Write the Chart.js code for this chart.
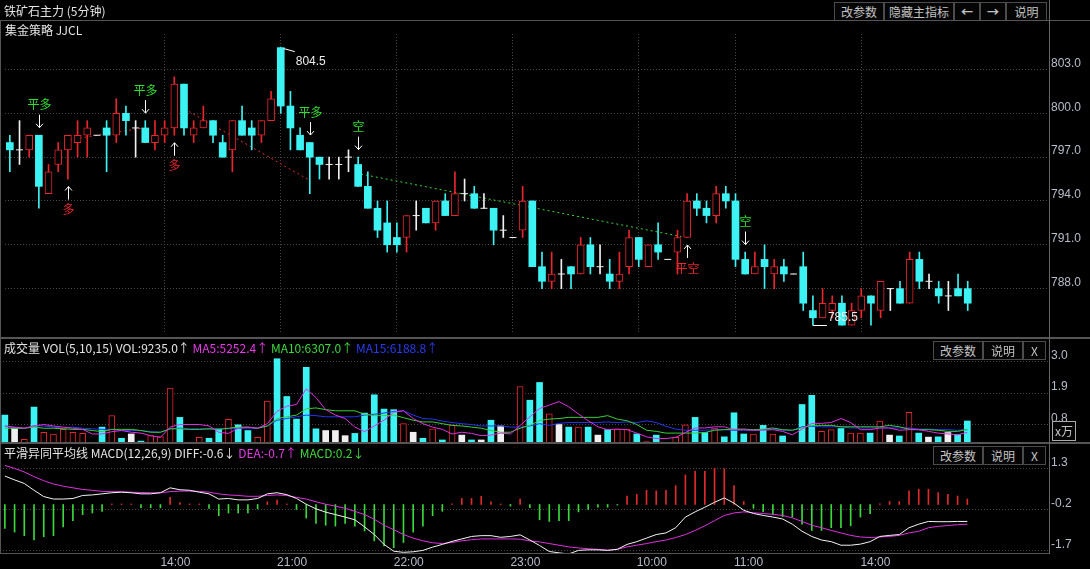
<!DOCTYPE html>
<html>
<head>
<meta charset="utf-8">
<script src="https://cdn.jsdelivr.net/npm/chart.js@4.4.1/dist/chart.umd.min.js"></script>
<style>
  body { margin: 0; background: #000; width: 1090px; height: 569px; overflow: hidden; position: relative;
         font-family: "Noto Sans CJK SC", sans-serif; }
  canvas { position: absolute; left: 0; }
  .txt { position: absolute; font-size: 12px; line-height: 16px; white-space: nowrap; color: #e4e4e4; z-index: 2; }
  .btn { position: absolute; height: 17px; border: 1px solid #4c4c4c; color: #c4c4c4; font-size: 12px;
         line-height: 17px; text-align: center; background: #050505; z-index: 2; }
  .ln { position: absolute; background: #555; z-index: 3; }
</style>
</head>
<body>

<canvas id="kChart" width="1090" height="339" style="top:0"></canvas>
<canvas id="volChart" width="1090" height="104" style="top:339px"></canvas>
<canvas id="macdChart" width="1090" height="126" style="top:443px"></canvas>

<div class="txt" style="left:4px;top:3px">铁矿石主力 (5分钟)</div>
<div class="btn" style="left:834px;top:2px;width:48px">改参数</div>
<div class="btn" style="left:884px;top:2px;width:68px">隐藏主指标</div>
<div class="btn" style="left:954px;top:2px;width:24px;font-weight:bold">&larr;</div>
<div class="btn" style="left:980px;top:2px;width:24px;font-weight:bold">&rarr;</div>
<div class="btn" style="left:1006px;top:2px;width:39px">说明</div>
<div class="txt" style="left:5px;top:22px">集金策略 JJCL</div>

<div class="txt" style="left:4px;top:340px">成交量 VOL(5,10,15) VOL:9235.0↑ <span style="color:#e83ae8">MA5:5252.4↑</span> <span style="color:#3cd83c">MA10:6307.0↑</span> <span style="color:#2a3cf0">MA15:6188.8↑</span></div>
<div class="btn" style="left:933px;top:341px;width:48px">改参数</div>
<div class="btn" style="left:983px;top:341px;width:38px">说明</div>
<div class="btn" style="left:1023px;top:341px;width:21px">X</div>
<div class="btn" style="left:1052px;top:421px;width:22px;height:18px;border-color:#aaa">x万</div>

<div class="txt" style="left:4px;top:445px">平滑异同平均线 MACD(12,26,9) DIFF:-0.6↓ <span style="color:#e83ae8">DEA:-0.7↑</span> <span style="color:#3cd83c">MACD:0.2↓</span></div>
<div class="btn" style="left:933px;top:446px;width:48px">改参数</div>
<div class="btn" style="left:983px;top:446px;width:38px">说明</div>
<div class="btn" style="left:1023px;top:446px;width:21px">X</div>

<div class="ln" style="left:0;top:20px;width:1090px;height:1px"></div>
<div class="ln" style="left:0;top:337px;width:1090px;height:2px"></div>
<div class="ln" style="left:0;top:442px;width:1090px;height:2px"></div>
<div class="ln" style="left:0;top:553px;width:1050px;height:1px"></div>
<div class="ln" style="left:1049px;top:0;width:1px;height:554px;background:#666"></div>
<div class="ln" style="left:0;top:21px;width:1px;height:532px"></div>

<script>
// 5-minute bars, oldest first (prices)
const opens = [798, 797.5, 797.5, 798.5, 794.5, 796.5, 797.5, 798, 798.5, 798.5,
  799, 798.5, 800, 799, 799, 798, 798.5, 799, 802, 798.5,
  799, 799.5, 798, 797.5, 799.5, 799, 798.5, 799.5, 804.5, 800.5,
  798.5, 798, 797, 796.5, 796.5, 797, 796.5, 795, 793.5, 792.5,
  791.5, 791.5, 793, 793.5, 792.5, 794, 793, 794.5, 794.5, 793.5,
  793.5, 792, 791.5, 792, 794, 789.5, 788.5, 789, 789.5, 789,
  791, 789.5, 789, 788.5, 789.5, 791.5, 789.5, 791, 790, 790.5,
  791.5, 794, 793.5, 793, 794.5, 794, 790, 789, 790, 789,
  789.5, 789, 789.5, 786.5, 786, 786.5, 787, 785.5, 786.5, 787.5,
  786.5, 788, 788, 787, 790, 788.5, 788, 787.5, 788, 788];
const highs = [798.5, 799.5, 798.5, 798.5, 796.5, 798, 798.5, 799.5, 799.5, 798.5,
  799.5, 801, 800.5, 799.5, 799.5, 799.5, 799.5, 802.5, 802, 799.5,
  800.5, 799.5, 798.5, 799.5, 800.5, 799.5, 799.5, 801.5, 804.5, 801.5,
  799, 798, 797, 797, 797, 797.5, 797, 796, 794, 794,
  792.5, 793, 794, 793.5, 794, 794.5, 796, 795.5, 795, 794.5,
  793.5, 793, 791.5, 795, 794, 790.5, 790.5, 790, 789.5, 791.5,
  791.5, 791, 790, 790.5, 792, 791.5, 791, 792.5, 790, 792,
  794.5, 794.5, 794, 795, 795, 794.5, 790.5, 790.5, 791, 790,
  790, 789, 790.5, 787.5, 788, 787.5, 787.5, 787, 788, 787.5,
  788.5, 788, 788.5, 790.5, 790.5, 789, 788.5, 788.5, 789, 788.5];
const lows = [796, 796.5, 797, 793.5, 794.5, 796, 795.5, 797, 797, 798.5,
  796, 798, 798.5, 797, 798, 797.5, 798, 798.5, 798.5, 798,
  799, 798, 797, 796, 798.5, 797.5, 798, 799.5, 800, 797.5,
  797.5, 794.5, 795.5, 795.5, 795.5, 796, 795, 793.5, 791.5, 790.5,
  790.5, 790.5, 792, 792.5, 792, 793, 793, 794, 793.5, 793.5,
  791, 791.5, 791.5, 791.5, 789.5, 788, 788, 788, 788, 789,
  789, 789, 788, 788, 789, 789.5, 789.5, 790, 790, 789,
  791.5, 793, 792.5, 792.5, 793.5, 789.5, 789, 789, 788, 788,
  788.5, 789, 786.5, 785.5, 786, 786, 785.5, 785.5, 786, 785.5,
  786, 786.5, 787, 787, 788, 788, 787, 786.5, 787.5, 786.5];
const closes = [797.5, 797.5, 798.5, 795, 796, 797.5, 798.5, 798.5, 799, 798.5,
  798.5, 800, 799.5, 799, 798, 798.5, 799, 802, 799, 799,
  799.5, 798.5, 797, 799.5, 798.5, 798.5, 799.5, 801, 800.5, 799,
  797.5, 797, 796.5, 796.5, 796.5, 797, 795, 793.5, 792, 791,
  791, 793, 793, 792.5, 794, 793, 794.5, 794.5, 793.5, 793.5,
  792, 792, 791.5, 794, 789.5, 788.5, 789, 789, 789, 791,
  789.5, 789.5, 788.5, 789, 791.5, 790, 791, 790.5, 790, 791.5,
  794, 793.5, 793, 794.5, 794, 790, 789, 789.5, 789.5, 789.5,
  789, 789, 787, 786, 787, 787, 785.5, 786.5, 787.5, 787,
  788.5, 788, 787, 790, 788.5, 788.5, 787.5, 787.5, 787.5, 787];

// volume in 10k lots, with its 5/10/15 bar averages as drawn
const vols = [1.13, 0.68, 0.28, 1.41, 0.53, 0.47, 0.63, 0.53, 0.49, 0.15,
  0.71, 1.11, 0.32, 0.47, 0.22, 0.41, 0.38, 2.07, 1.05, 0.19,
  0.35, 0.32, 0.65, 0.98, 0.79, 0.59, 0.35, 1.62, 3.10, 1.78,
  0.99, 2.80, 0.65, 0.59, 0.59, 0.41, 0.49, 1.20, 1.84, 1.34,
  1.32, 0.83, 0.53, 0.32, 0.65, 0.26, 0.79, 0.43, 0.26, 0.26,
  0.95, 0.75, 0.15, 2.13, 1.65, 2.27, 1.17, 0.80, 0.71, 0.71,
  0.71, 0.43, 0.62, 0.64, 0.64, 0.47, 0.20, 0.43, 0.15, 0.35,
  0.79, 1.05, 0.52, 0.68, 0.37, 1.21, 0.47, 0.47, 0.77, 0.47,
  0.40, 0.15, 1.50, 1.82, 0.56, 0.62, 0.66, 0.50, 0.50, 0.50,
  0.92, 0.43, 0.40, 1.23, 0.50, 0.36, 0.37, 0.52, 0.45, 0.9235];
const ma5 = [0.75, 0.71, 0.67, 0.75, 0.80, 0.75, 0.71, 0.67, 0.63, 0.47,
  0.47, 0.55, 0.59, 0.53, 0.50, 0.41, 0.35, 0.71, 0.80, 0.80,
  0.80, 0.75, 0.53, 0.49, 0.67, 0.71, 0.67, 0.83, 1.26, 1.44,
  1.50, 2.05, 1.74, 1.32, 1.13, 1.01, 0.71, 0.55, 0.75, 0.95,
  1.23, 1.28, 1.01, 0.83, 0.71, 0.63, 0.47, 0.53, 0.49, 0.41,
  0.43, 0.50, 0.47, 0.77, 1.07, 1.36, 1.48, 1.60, 1.42, 1.17,
  0.93, 0.72, 0.62, 0.64, 0.62, 0.50, 0.37, 0.31, 0.31, 0.35,
  0.52, 0.68, 0.68, 0.72, 0.72, 0.62, 0.62, 0.60, 0.60, 0.62,
  0.56, 0.44, 0.64, 0.84, 0.84, 0.87, 1.01, 0.87, 0.62, 0.62,
  0.68, 0.68, 0.60, 0.62, 0.62, 0.56, 0.50, 0.47, 0.44, 0.525];
const ma10 = [0.67, 0.67, 0.67, 0.71, 0.67, 0.67, 0.65, 0.63, 0.63, 0.59,
  0.55, 0.63, 0.63, 0.63, 0.59, 0.53, 0.53, 0.65, 0.65, 0.63,
  0.63, 0.65, 0.63, 0.67, 0.71, 0.71, 0.67, 0.75, 1.01, 1.07,
  1.13, 1.35, 1.38, 1.32, 1.28, 1.28, 1.28, 1.16, 1.11, 1.11,
  1.13, 1.04, 0.95, 0.89, 0.89, 0.83, 0.77, 0.75, 0.71, 0.67,
  0.59, 0.53, 0.53, 0.67, 0.77, 0.94, 0.99, 1.01, 1.05, 1.05,
  1.05, 1.05, 1.11, 0.99, 0.93, 0.80, 0.60, 0.56, 0.50, 0.50,
  0.50, 0.50, 0.52, 0.60, 0.62, 0.64, 0.64, 0.62, 0.64, 0.68,
  0.62, 0.60, 0.68, 0.77, 0.77, 0.77, 0.72, 0.72, 0.72, 0.72,
  0.72, 0.77, 0.72, 0.64, 0.62, 0.62, 0.60, 0.56, 0.56, 0.63];
const ma15 = [0.75, 0.67, 0.67, 0.75, 0.75, 0.71, 0.67, 0.71, 0.67, 0.65,
  0.63, 0.63, 0.59, 0.59, 0.59, 0.55, 0.53, 0.65, 0.67, 0.65,
  0.65, 0.65, 0.65, 0.65, 0.67, 0.67, 0.67, 0.75, 0.95, 1.01,
  1.07, 1.13, 1.11, 1.07, 1.07, 1.07, 1.07, 1.13, 1.16, 1.20,
  1.26, 1.28, 1.13, 1.01, 0.99, 0.92, 0.87, 0.83, 0.80, 0.75,
  0.75, 0.75, 0.71, 0.71, 0.75, 0.83, 0.77, 0.84, 0.87, 0.87,
  0.87, 0.87, 0.89, 0.87, 0.89, 0.87, 0.93, 0.87, 0.74, 0.64,
  0.60, 0.60, 0.60, 0.62, 0.62, 0.60, 0.60, 0.60, 0.62, 0.64,
  0.60, 0.60, 0.72, 0.74, 0.72, 0.72, 0.72, 0.68, 0.68, 0.68,
  0.68, 0.68, 0.68, 0.68, 0.64, 0.64, 0.62, 0.62, 0.60, 0.62];

// MACD(12,26,9) as drawn
const diff = [1.04, 0.90, 0.77, 0.52, 0.29, 0.20, 0.20, 0.22, 0.33, 0.35,
  0.39, 0.43, 0.45, 0.43, 0.39, 0.39, 0.43, 0.61, 0.54, 0.52,
  0.45, 0.39, 0.20, 0.22, 0.17, 0.17, 0.22, 0.39, 0.43, 0.36,
  0.22, 0.01, -0.16, -0.28, -0.37, -0.46, -0.56, -0.82, -1.10, -1.46,
  -1.71, -1.75, -1.73, -1.68, -1.56, -1.46, -1.35, -1.26, -1.17, -1.14,
  -1.14, -1.20, -1.17, -1.11, -1.30, -1.50, -1.72, -1.77, -1.81, -1.68,
  -1.66, -1.66, -1.68, -1.64, -1.46, -1.36, -1.23, -1.10, -1.04, -0.85,
  -0.46, -0.27, -0.10, 0.08, 0.24, 0.05, -0.21, -0.33, -0.40, -0.46,
  -0.53, -0.72, -0.98, -1.17, -1.30, -1.36, -1.49, -1.49, -1.45, -1.36,
  -1.17, -1.13, -1.10, -0.85, -0.72, -0.62, -0.63, -0.63, -0.62, -0.62];
const dea = [1.43, 1.32, 1.19, 1.02, 0.87, 0.75, 0.67, 0.61, 0.55, 0.52,
  0.48, 0.47, 0.47, 0.45, 0.44, 0.43, 0.43, 0.47, 0.49, 0.49,
  0.48, 0.45, 0.39, 0.35, 0.33, 0.30, 0.30, 0.33, 0.35, 0.33,
  0.26, 0.20, 0.10, 0.01, -0.06, -0.14, -0.25, -0.37, -0.54, -0.76,
  -0.92, -1.10, -1.23, -1.33, -1.40, -1.43, -1.39, -1.33, -1.29, -1.26,
  -1.26, -1.26, -1.26, -1.27, -1.33, -1.37, -1.43, -1.49, -1.55, -1.59,
  -1.62, -1.64, -1.67, -1.64, -1.55, -1.49, -1.43, -1.36, -1.30, -1.21,
  -1.10, -0.95, -0.78, -0.59, -0.40, -0.31, -0.27, -0.30, -0.33, -0.36,
  -0.40, -0.49, -0.62, -0.76, -0.85, -0.95, -1.04, -1.13, -1.19, -1.21,
  -1.19, -1.17, -1.13, -1.04, -0.98, -0.85, -0.80, -0.77, -0.74, -0.72];
const macd = [-0.88, -1.01, -1.14, -1.30, -1.18, -1.14, -0.82, -0.59, -0.37, -0.31,
  -0.25, 0.02, 0.02, 0.02, -0.12, -0.12, -0.12, 0.26, 0.07, 0.02,
  0.02, -0.14, -0.41, -0.31, -0.31, -0.31, -0.16, 0.10, 0.16, 0.02,
  -0.18, -0.50, -0.69, -0.76, -0.79, -0.69, -0.79, -0.97, -1.33, -1.52,
  -1.58, -1.39, -1.01, -0.79, -0.41, -0.25, 0.02, 0.22, 0.22, 0.30,
  0.10, 0.02, -0.06, 0.20, -0.12, -0.56, -0.62, -0.59, -0.59, -0.27,
  -0.18, -0.10, -0.10, -0.02, 0.31, 0.37, 0.52, 0.50, 0.52, 0.69,
  1.08, 1.21, 1.21, 1.33, 1.31, 0.69, 0.11, -0.14, -0.27, -0.36,
  -0.44, -0.46, -0.72, -0.95, -0.95, -0.85, -0.85, -0.78, -0.46, -0.34,
  0.02, 0.11, 0.11, 0.50, 0.56, 0.56, 0.44, 0.37, 0.31, 0.20];

// strategy signals and the trades they open/close
const signalBars = [3, 6, 14, 17, 31, 36, 70, 76];
const signalTexts = ['平多', '多', '平多', '多', '平多', '空', '平空', '空'];
const tradeStartBar = [6.2, 17.15, 36.3];
const tradeStartPrice = [798.2, 800.64, 795.84];
const tradeEndBar = [13.8, 30.9, 69.4];
const tradeEndPrice = [799.0, 795.45, 791.56];
const tradeIsLong = [true, true, false];

const timeTicks = [16, 28, 40, 52, 65, 75, 88];
const timeLabels = ['14:00', '21:00', '22:00', '23:00', '10:00', '11:00', '14:00'];
const priceTicks = [788, 791, 794, 797, 800, 803];
const volTicks = [0.8, 1.9, 3.0];
const macdTicks = [-1.7, -0.2, 1.3];

const RED = '#e8262b', CYAN = '#3cf2f2', WHITE = '#f0f0f0', SIG_GREEN = '#2ee02e';
const GRID = '#464646', AXIS_TXT = '#b6bccb';
const AXIS_FONT = { family: 'Liberation Sans', size: 12 };

const kind = i => Math.sign(closes[i] - opens[i]);
const fillOf = i => kind(i) > 0 ? '#000' : kind(i) < 0 ? CYAN : WHITE;
const lineOf = i => kind(i) > 0 ? RED : kind(i) < 0 ? CYAN : WHITE;

// keep the plot area exactly where the layout padding puts it
const noOverflow = s => { s.paddingTop = 0; s.paddingBottom = 0; s.paddingLeft = 0; s.paddingRight = 0; };

function xScale(showLabels) {
    return {
        type: 'linear', min: -0.5, max: 107.4, offset: false, bounds: 'ticks',
        afterBuildTicks: s => { s.ticks = timeTicks.map(v => ({ value: v })); },
        afterFit: s => { s.height = showLabels ? 16 : 0; noOverflow(s); },
        grid: { color: GRID, drawTicks: false, display: true, offset: false },
        border: { display: false, dash: [1, 2] },
        ticks: {
            display: showLabels, autoSkip: false, maxRotation: 0, align: 'start', padding: -6,
            color: AXIS_TXT, font: AXIS_FONT,
            callback: v => timeLabels[timeTicks.indexOf(v)]
        }
    };
}

function yScale(min, max, tickList) {
    return {
        position: 'right', min, max,
        afterBuildTicks: s => { s.ticks = tickList.map(v => ({ value: v })); },
        afterFit: s => { s.width = 41; noOverflow(s); },
        grid: { color: GRID, drawTicks: false },
        border: { display: false, dash: [1, 2] },
        ticks: { color: AXIS_TXT, font: AXIS_FONT, padding: 2, labelOffset: -6, callback: v => v.toFixed(1) }
    };
}

const baseOpts = {
    responsive: false, animation: false, events: [],
    plugins: { legend: { display: false }, tooltip: { enabled: false } }
};

// arrows + words for the signals, and the high / low markers
const markPlugin = {
    id: 'marks',
    afterDatasetsDraw(chart) {
        const { ctx, scales: { x, y } } = chart;
        ctx.save();
        ctx.lineWidth = 1;
        ctx.font = '12px "Noto Sans CJK SC"';
        ctx.textAlign = 'center';
        ctx.textBaseline = 'middle';
        signalBars.forEach((b, k) => {
            const text = signalTexts[k];
            const buy = text === '多' || text === '平空';
            const dir = buy ? 1 : -1;
            const px = Math.round(x.getPixelForValue(b)) + 0.5;
            const tip = y.getPixelForValue(buy ? lows[b] : highs[b]) + dir * 7.5;
            const tail = tip + dir * 13;
            ctx.strokeStyle = '#fff';
            ctx.beginPath();
            ctx.moveTo(px, tail); ctx.lineTo(px, tip);
            ctx.moveTo(px - 3.5, tip + dir * 4); ctx.lineTo(px, tip); ctx.lineTo(px + 3.5, tip + dir * 4);
            ctx.stroke();
            ctx.fillStyle = buy ? RED : SIG_GREEN;
            ctx.fillText(text, px, tail + dir * 10);
        });

        const hi = highs.indexOf(Math.max(...highs));
        const lo = lows.indexOf(Math.min(...lows));
        ctx.strokeStyle = '#fff';
        ctx.fillStyle = '#ececec';
        ctx.textAlign = 'left';
        ctx.font = '12px "Liberation Sans"';
        let px = x.getPixelForValue(hi), py = y.getPixelForValue(highs[hi]);
        ctx.beginPath(); ctx.moveTo(px + 3, py + 1); ctx.lineTo(px + 14, py + 4); ctx.stroke();
        ctx.fillText(highs[hi].toFixed(1), px + 15, py + 14);
        px = x.getPixelForValue(lo); py = Math.round(y.getPixelForValue(lows[lo])) + 0.5;
        ctx.beginPath(); ctx.moveTo(px, py); ctx.lineTo(px + 14, py); ctx.stroke();
        ctx.fillText(lows[lo].toFixed(1), px + 15, py - 8);
        ctx.restore();
    }
};

const idx = opens.map((_, i) => i);

const tradeSets = tradeStartBar.map((b, k) => ({
    type: 'line', order: 4,
    data: [{ x: b, y: tradeStartPrice[k] }, { x: tradeEndBar[k], y: tradeEndPrice[k] }],
    borderColor: tradeIsLong[k] ? '#e02a2a' : '#3ad83a', borderWidth: 1, borderDash: [2, 3],
    pointRadius: 0
}));

new Chart(document.getElementById('kChart'), {
    type: 'bar',
    data: {
        datasets: [
            {
                type: 'line', order: 0, showLine: false,
                data: idx.filter(i => kind(i) === 0).map(i => ({ x: i, y: opens[i] })),
                pointStyle: 'line', pointRadius: 3.5, pointBorderColor: WHITE, pointBorderWidth: 1
            },
            {
                order: 1, grouped: false, barThickness: 7, borderSkipped: false,
                data: idx.map(i => ({ x: i, y: kind(i) ? [opens[i], closes[i]] : null })),
                backgroundColor: c => fillOf(c.dataIndex),
                borderColor: c => lineOf(c.dataIndex),
                borderWidth: c => kind(c.dataIndex) > 0 ? 1 : 0
            },
            {
                order: 2, grouped: false, barThickness: 1,
                data: idx.map(i => ({ x: i, y: [lows[i], highs[i]] })),
                backgroundColor: c => lineOf(c.dataIndex)
            },
            ...tradeSets
        ]
    },
    options: {
        ...baseOpts,
        layout: { padding: { top: 34, bottom: 1, left: 0, right: 0 } },
        scales: { x: xScale(false), y: yScale(784.892, 805.432, priceTicks) }
    },
    plugins: [markPlugin]
});

new Chart(document.getElementById('volChart'), {
    type: 'bar',
    data: {
        datasets: [
            { type: 'line', order: 0, data: idx.map(i => ({ x: i, y: ma5[i] })), borderColor: '#e030e0', borderWidth: 1, pointRadius: 0 },
            { type: 'line', order: 1, data: idx.map(i => ({ x: i, y: ma10[i] })), borderColor: '#38d038', borderWidth: 1, pointRadius: 0 },
            { type: 'line', order: 2, data: idx.map(i => ({ x: i, y: ma15[i] })), borderColor: '#2436f0', borderWidth: 1, pointRadius: 0 },
            {
                order: 3, grouped: false, barThickness: 6, borderSkipped: false,
                data: idx.map(i => ({ x: i, y: vols[i] })),
                backgroundColor: c => fillOf(c.dataIndex),
                borderColor: c => lineOf(c.dataIndex),
                borderWidth: c => kind(c.dataIndex) > 0 ? 1 : 0
            }
        ]
    },
    options: {
        ...baseOpts,
        layout: { padding: { top: 1, bottom: 1, left: 0, right: 0 } },
        scales: { x: { ...xScale(false), grid: { display: false } }, y: yScale(0.189, 3.755, volTicks) }
    }
});

new Chart(document.getElementById('macdChart'), {
    type: 'bar',
    data: {
        datasets: [
            { type: 'line', order: 0, data: idx.map(i => ({ x: i, y: diff[i] })), borderColor: '#f4f4f4', borderWidth: 1, pointRadius: 0 },
            { type: 'line', order: 1, data: idx.map(i => ({ x: i, y: dea[i] })), borderColor: '#e030e0', borderWidth: 1, pointRadius: 0 },
            {
                order: 2, grouped: false, barThickness: 1,
                data: idx.map(i => ({ x: i, y: macd[i] })),
                backgroundColor: c => macd[c.dataIndex] >= 0 ? '#e02a2a' : '#3ad83a'
            }
        ]
    },
    options: {
        ...baseOpts,
        layout: { padding: { top: 1, bottom: 0, left: 0, right: 0 } },
        scales: { x: { ...xScale(true), grid: { display: false } }, y: yScale(-1.775, 2.214, macdTicks) }
    }
});
</script>
</body>
</html>
